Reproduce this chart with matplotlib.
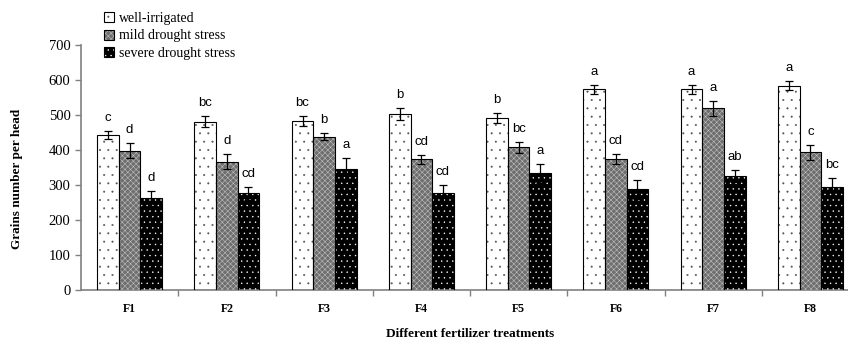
import matplotlib.pyplot as plt
import matplotlib.hatch as mhatch
import numpy as np

treatments = ['F1', 'F2', 'F3', 'F4', 'F5', 'F6', 'F7', 'F8']
series_names = ['well-irrigated', 'mild drought stress', 'severe drought stress']

well = [443, 481, 483, 503, 492, 573, 573, 584]
mild = [398, 367, 438, 373, 408, 374, 519, 393]
severe = [262, 276, 346, 276, 333, 288, 326, 295]

well_err = [12, 16, 14, 18, 14, 12, 12, 13]
mild_err = [21, 22, 10, 14, 16, 14, 22, 21]
severe_err = [21, 19, 32, 24, 27, 27, 17, 25]

well_sig = ['c', 'bc', 'bc', 'b', 'b', 'a', 'a', 'a']
mild_sig = ['d', 'd', 'b', 'cd', 'bc', 'cd', 'a', 'c']
severe_sig = ['d', 'cd', 'a', 'cd', 'a', 'cd', 'ab', 'bc']

serif = ['Liberation Serif', 'DejaVu Serif']
sans = ['Liberation Sans', 'DejaVu Sans']

# finer dot texture than the default '.' hatch
mhatch.SmallFilledCircles.size = 0.09
plt.rcParams['hatch.linewidth'] = 0.35

fig = plt.figure(figsize=(8.48, 3.48), dpi=100)
ax = fig.add_axes([81 / 848, 58 / 348, 778 / 848, 245 / 348])

x = np.arange(len(treatments))
w = 0.222
# face, hatch, hatch colour
styles = [('white', '..', '#555555'),
          ('#6e6e6e', 'xxxxxx', '#c8c8c8'),
          ('black', '...', 'white')]
values = [well, mild, severe]
errors = [well_err, mild_err, severe_err]
sigs = [well_sig, mild_sig, severe_sig]

handles = []
for k in range(3):
    pos = x + (k - 1) * w
    face, hatch, hcol = styles[k]
    ax.bar(pos, values[k], w, color=face, edgecolor='none', zorder=2)
    ax.bar(pos, values[k], w, color='none', hatch=hatch, edgecolor=hcol,
           linewidth=0, zorder=3)
    ax.bar(pos, values[k], w, color='none', edgecolor='black',
           linewidth=0.8, zorder=4)
    ax.errorbar(pos, values[k], yerr=errors[k], fmt='none', ecolor='black',
                elinewidth=0.9, capsize=3, capthick=0.9, zorder=5)
    for xi, v, e, s in zip(pos, values[k], errors[k], sigs[k]):
        ax.annotate(s, (xi, v + e), xytext=(0, 5), textcoords='offset points',
                    ha='center', va='bottom', fontsize=9.5, family=sans)
    # legend proxies, layered like the bars
    p1 = plt.Rectangle((0, 0), 1, 1, facecolor=face, edgecolor='none')
    p2 = plt.Rectangle((0, 0), 1, 1, facecolor='none', hatch=hatch,
                       edgecolor=hcol, linewidth=0)
    p3 = plt.Rectangle((0, 0), 1, 1, facecolor='none', edgecolor='black',
                       linewidth=0.8)
    handles.append((p1, p2, p3))

ax.set_xlim(-0.5, 7.5)
ax.set_ylim(0, 700)
ax.set_yticks(range(0, 701, 100))
ax.set_xticks(x)
ax.set_xticklabels(treatments, family=serif, fontweight='bold', fontsize=8.5)
ax.set_xticks(np.arange(0.5, 7.6, 1), minor=True)
ax.tick_params(axis='x', which='major', length=0, pad=9)
ax.tick_params(axis='x', which='minor', length=4, color='#808080', width=1)
ax.tick_params(axis='y', length=4, color='#808080', width=1, labelsize=10.5)
for lab in ax.get_yticklabels():
    lab.set_family(serif)

for sp in ['top', 'right']:
    ax.spines[sp].set_visible(False)
for sp in ['left', 'bottom']:
    ax.spines[sp].set_color('#808080')
    ax.spines[sp].set_linewidth(1.2)

ax.set_ylabel('Grains number per head', family=serif, fontweight='bold',
              fontsize=9.5)
ax.yaxis.set_label_coords(-0.074, 0.455)
ax.set_xlabel('Different fertilizer treatments', family=serif, fontweight='bold',
              fontsize=9.5, labelpad=10)

leg = fig.legend(handles, series_names, loc='upper left',
                 bbox_to_anchor=(104 / 848, 1.0 - 12 / 348), frameon=False,
                 prop={'family': serif, 'size': 10}, handlelength=0.75,
                 handleheight=0.75, handletextpad=0.3, labelspacing=0.32,
                 borderaxespad=0.0, borderpad=0.0)

fig.savefig('out.png', dpi=100)
